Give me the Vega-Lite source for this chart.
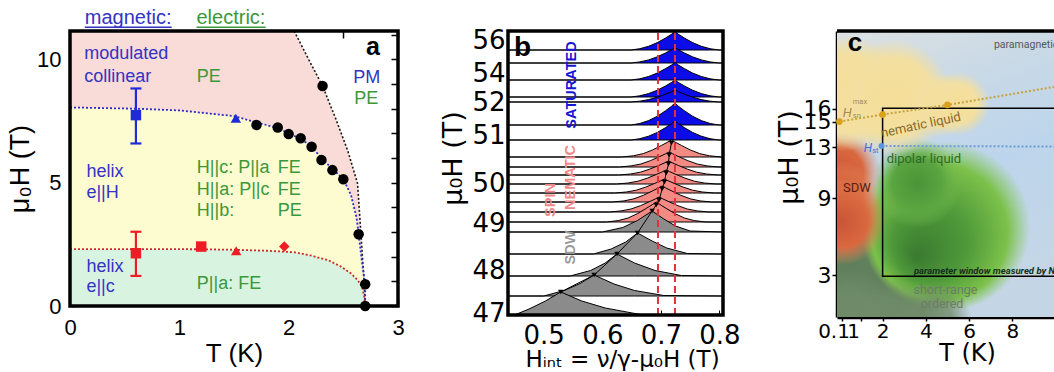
{
  "$schema": "https://vega.github.io/schema/vega-lite/v6.json",
  "background": "white",
  "padding": {"left": 6, "top": 8, "right": 0, "bottom": 0},
  "spacing": 34,
  "config": {
    "view": {"stroke": null},
    "axis": {"grid": false, "domain": false, "zindex": 1, "labelFont": "Liberation Sans", "titleFont": "Liberation Sans", "labelColor": "black", "titleColor": "black", "tickColor": "black", "titleFontWeight": "normal"},
    "text": {"font": "Liberation Sans"}
  },
  "resolve": {"scale": {"color": "independent", "fill": "independent", "shape": "independent"}},
  "datasets": {
    "a_lines": [
      {"c": "top", "T": 0, "H": 11.15},
      {"c": "k", "T": 2.05, "H": 11.15}, {"c": "k", "T": 2.2, "H": 9.85}, {"c": "k", "T": 2.31, "H": 8.92}, {"c": "k", "T": 2.43, "H": 7.6}, {"c": "k", "T": 2.54, "H": 6.3}, {"c": "k", "T": 2.63, "H": 4.97}, {"c": "k", "T": 2.66, "H": 3.0}, {"c": "k", "T": 2.69, "H": 1.0}, {"c": "k", "T": 2.7, "H": 0},
      {"c": "b", "T": 0, "H": 8.05}, {"c": "b", "T": 0.6, "H": 8.0}, {"c": "b", "T": 1.0, "H": 7.93}, {"c": "b", "T": 1.5, "H": 7.7}, {"c": "b", "T": 1.7, "H": 7.45}, {"c": "b", "T": 1.9, "H": 7.22}, {"c": "b", "T": 2.0, "H": 7.0}, {"c": "b", "T": 2.1, "H": 6.8}, {"c": "b", "T": 2.2, "H": 6.5}, {"c": "b", "T": 2.3, "H": 6.0}, {"c": "b", "T": 2.4, "H": 5.55}, {"c": "b", "T": 2.5, "H": 5.15}, {"c": "b", "T": 2.57, "H": 4.5}, {"c": "b", "T": 2.62, "H": 3.6}, {"c": "b", "T": 2.64, "H": 2.91}, {"c": "b", "T": 2.67, "H": 1.8}, {"c": "b", "T": 2.7, "H": 0.88}, {"c": "b", "T": 2.7, "H": 0},
      {"c": "r", "T": 0, "H": 2.31}, {"c": "r", "T": 0.6, "H": 2.31}, {"c": "r", "T": 1.2, "H": 2.3}, {"c": "r", "T": 1.5, "H": 2.28}, {"c": "r", "T": 1.8, "H": 2.24}, {"c": "r", "T": 2.05, "H": 2.18}, {"c": "r", "T": 2.2, "H": 2.05}, {"c": "r", "T": 2.36, "H": 1.86}, {"c": "r", "T": 2.47, "H": 1.62}, {"c": "r", "T": 2.57, "H": 1.32}, {"c": "r", "T": 2.63, "H": 1.05}, {"c": "r", "T": 2.67, "H": 0.8}, {"c": "r", "T": 2.69, "H": 0.4}, {"c": "r", "T": 2.7, "H": 0}
    ],
    "a_err": [
      {"T": 0.603, "lo": 6.59, "hi": 8.82, "g": "bl"},
      {"T": 0.603, "lo": 1.22, "hi": 3.01, "g": "rd"}
    ],
    "a_pts": [
      {"T": 2.31, "H": 8.92, "g": "k", "s": "circle"}, {"T": 1.706, "H": 7.34, "g": "k", "s": "circle"}, {"T": 1.9, "H": 7.24, "g": "k", "s": "circle"}, {"T": 2.0, "H": 6.97, "g": "k", "s": "circle"}, {"T": 2.11, "H": 6.8, "g": "k", "s": "circle"}, {"T": 2.21, "H": 6.46, "g": "k", "s": "circle"}, {"T": 2.3, "H": 5.92, "g": "k", "s": "circle"}, {"T": 2.4, "H": 5.51, "g": "k", "s": "circle"}, {"T": 2.5, "H": 5.14, "g": "k", "s": "circle"}, {"T": 2.64, "H": 2.91, "g": "k", "s": "circle"}, {"T": 2.7, "H": 0.88, "g": "k", "s": "circle"}, {"T": 2.7, "H": 0, "g": "k", "s": "circle"},
      {"T": 0.603, "H": 7.74, "g": "bl", "s": "square"},
      {"T": 1.517, "H": 7.61, "g": "bl", "s": "triangle"},
      {"T": 0.603, "H": 2.14, "g": "rd", "s": "square"},
      {"T": 1.2, "H": 2.41, "g": "rd", "s": "square"},
      {"T": 1.52, "H": 2.24, "g": "rd", "s": "triangle"},
      {"T": 1.96, "H": 2.41, "g": "rd", "s": "diamond"}
    ],
    "a_text": [
      {"T": 0.13, "H": 10.2, "txt": "modulated", "g": "m"},
      {"T": 0.13, "H": 9.3, "txt": "collinear", "g": "m"},
      {"T": 0.15, "H": 5.44, "txt": "helix", "g": "m"},
      {"T": 0.15, "H": 4.6, "txt": "e||H", "g": "m"},
      {"T": 0.15, "H": 1.6, "txt": "helix", "g": "m"},
      {"T": 0.15, "H": 0.76, "txt": "e||c", "g": "m"},
      {"T": 2.59, "H": 9.25, "txt": "PM", "g": "m"},
      {"T": 1.16, "H": 9.3, "txt": "PE", "g": "e"},
      {"T": 2.6, "H": 8.4, "txt": "PE", "g": "e"},
      {"T": 1.16, "H": 5.6, "txt": "H||c: P||a", "g": "e"},
      {"T": 1.9, "H": 5.6, "txt": "FE", "g": "e"},
      {"T": 1.16, "H": 4.7, "txt": "H||a: P||c", "g": "e"},
      {"T": 1.9, "H": 4.7, "txt": "FE", "g": "e"},
      {"T": 1.16, "H": 3.85, "txt": "H||b:", "g": "e"},
      {"T": 1.9, "H": 3.85, "txt": "PE", "g": "e"},
      {"T": 1.16, "H": 0.88, "txt": "P||a: FE", "g": "e"}
    ],
    "a_head": [
      {"T": 0.135, "T2": 0.93, "H": 11.67, "HU": 11.3, "txt": "magnetic:", "g": "m"},
      {"T": 1.157, "T2": 1.79, "H": 11.67, "HU": 11.3, "txt": "electric:", "g": "e"}
    ],
    "b_traces": [
      {"t": "t01", "p": "sat", "h": [0.439, 0.649, 0.664, 0.679, 0.694, 0.708, 0.718, 0.724, 0.73, 0.74, 0.754, 0.769, 0.784, 0.799, 0.806], "y": [26.5, 26.5, 26.63, 26.87, 27.24, 27.7, 28.07, 28.35, 28.07, 27.7, 27.24, 26.87, 26.63, 26.5, 26.5]},
      {"t": "t02", "p": "sat", "h": [0.439, 0.649, 0.664, 0.679, 0.694, 0.708, 0.718, 0.724, 0.73, 0.74, 0.754, 0.769, 0.784, 0.799, 0.806], "y": [25.2, 25.2, 25.31, 25.51, 25.82, 26.21, 26.52, 26.75, 26.52, 26.21, 25.82, 25.51, 25.31, 25.2, 25.2]},
      {"t": "t03", "p": "sat", "h": [0.439, 0.649, 0.664, 0.679, 0.694, 0.708, 0.718, 0.724, 0.73, 0.74, 0.754, 0.769, 0.784, 0.799, 0.806], "y": [23.5, 23.5, 23.62, 23.85, 24.2, 24.64, 24.99, 25.25, 24.99, 24.64, 24.2, 23.85, 23.62, 23.5, 23.5]},
      {"t": "t04", "p": "sat", "h": [0.439, 0.649, 0.664, 0.679, 0.694, 0.708, 0.718, 0.724, 0.73, 0.74, 0.754, 0.769, 0.784, 0.799, 0.806], "y": [21.8, 21.8, 21.92, 22.14, 22.48, 22.91, 23.25, 23.5, 23.25, 22.91, 22.48, 22.14, 21.92, 21.8, 21.8]},
      {"t": "t05", "p": "sat", "h": [0.439, 0.649, 0.664, 0.679, 0.694, 0.708, 0.718, 0.724, 0.73, 0.74, 0.754, 0.769, 0.784, 0.799, 0.806], "y": [21.3, 21.3, 21.38, 21.54, 21.78, 22.08, 22.32, 22.5, 22.32, 22.08, 21.78, 21.54, 21.38, 21.3, 21.3]},
      {"t": "t06", "p": "sat", "h": [0.439, 0.649, 0.664, 0.679, 0.694, 0.708, 0.718, 0.724, 0.73, 0.74, 0.754, 0.769, 0.784, 0.799, 0.806], "y": [19, 19, 19.15, 19.44, 19.88, 20.43, 20.87, 21.2, 20.87, 20.43, 19.88, 19.44, 19.15, 19, 19]},
      {"t": "t07", "p": "sat", "h": [0.439, 0.649, 0.664, 0.679, 0.694, 0.708, 0.718, 0.724, 0.73, 0.74, 0.754, 0.769, 0.784, 0.799, 0.806], "y": [17.5, 17.5, 17.63, 17.88, 18.26, 18.74, 19.12, 19.4, 19.12, 18.74, 18.26, 17.88, 17.63, 17.5, 17.5]},
      {"t": "t08", "p": "nem", "h": [0.439, 0.633, 0.653, 0.67, 0.686, 0.701, 0.712, 0.718, 0.724, 0.735, 0.75, 0.766, 0.783, 0.803, 0.806], "y": [15.8, 15.8, 15.92, 16.14, 16.51, 16.96, 17.3, 17.5, 17.3, 16.96, 16.51, 16.14, 15.92, 15.8, 15.8]},
      {"t": "t09", "p": "nem", "h": [0.439, 0.629, 0.649, 0.666, 0.682, 0.697, 0.708, 0.714, 0.72, 0.731, 0.746, 0.762, 0.779, 0.799, 0.806], "y": [14.8, 14.8, 14.91, 15.1, 15.43, 15.82, 16.12, 16.3, 16.12, 15.82, 15.43, 15.1, 14.91, 14.8, 14.8]},
      {"t": "t10", "p": "nem", "h": [0.439, 0.628, 0.648, 0.665, 0.681, 0.696, 0.707, 0.713, 0.719, 0.73, 0.745, 0.761, 0.778, 0.798, 0.806], "y": [14, 14, 14.1, 14.28, 14.59, 14.95, 15.23, 15.4, 15.23, 14.95, 14.59, 14.28, 14.1, 14, 14]},
      {"t": "t11", "p": "nem", "h": [0.439, 0.624, 0.644, 0.661, 0.677, 0.692, 0.703, 0.709, 0.715, 0.726, 0.741, 0.757, 0.774, 0.794, 0.806], "y": [13.1, 13.1, 13.2, 13.38, 13.69, 14.05, 14.33, 14.5, 14.33, 14.05, 13.69, 13.38, 13.2, 13.1, 13.1]},
      {"t": "t12", "p": "nem", "h": [0.439, 0.621, 0.641, 0.658, 0.674, 0.689, 0.7, 0.706, 0.712, 0.723, 0.738, 0.754, 0.771, 0.791, 0.806], "y": [12.2, 12.2, 12.3, 12.48, 12.79, 13.15, 13.43, 13.6, 13.43, 13.15, 12.79, 12.48, 12.3, 12.2, 12.2]},
      {"t": "t13", "p": "nem", "h": [0.439, 0.617, 0.637, 0.654, 0.67, 0.685, 0.696, 0.702, 0.708, 0.719, 0.734, 0.75, 0.767, 0.787, 0.806], "y": [11.3, 11.3, 11.41, 11.62, 11.97, 12.39, 12.71, 12.9, 12.71, 12.39, 11.97, 11.62, 11.41, 11.3, 11.3]},
      {"t": "t14", "p": "nem", "h": [0.439, 0.612, 0.632, 0.649, 0.665, 0.68, 0.691, 0.697, 0.703, 0.714, 0.729, 0.745, 0.762, 0.782, 0.806], "y": [10.3, 10.3, 10.41, 10.6, 10.93, 11.32, 11.62, 11.8, 11.62, 11.32, 10.93, 10.6, 10.41, 10.3, 10.3]},
      {"t": "t15", "p": "nem", "h": [0.439, 0.607, 0.627, 0.644, 0.66, 0.675, 0.686, 0.692, 0.698, 0.709, 0.724, 0.74, 0.757, 0.777, 0.806], "y": [9.3, 9.3, 9.44, 9.7, 10.14, 10.66, 11.06, 11.3, 11.06, 10.66, 10.14, 9.7, 9.44, 9.3, 9.3]},
      {"t": "t16", "p": "sdw", "h": [0.439, 0.6, 0.635, 0.66, 0.685, 0.705, 0.725, 0.75, 0.806], "y": [8.3, 8.3, 8.75, 9.45, 10.4, 9.6, 8.9, 8.4, 8.3]},
      {"t": "t17", "p": "sdw", "h": [0.439, 0.585, 0.615, 0.64, 0.66, 0.685, 0.71, 0.745, 0.806], "y": [6.1, 6.1, 6.6, 7.3, 8.2, 7.4, 6.7, 6.15, 6.1]},
      {"t": "t18", "p": "sdw", "h": [0.439, 0.545, 0.58, 0.605, 0.625, 0.655, 0.69, 0.735, 0.806], "y": [3.9, 3.9, 4.45, 5.2, 6.1, 5.2, 4.45, 3.95, 3.9]},
      {"t": "t19", "p": "sdw", "h": [0.439, 0.5, 0.535, 0.562, 0.586, 0.62, 0.655, 0.705, 0.806], "y": [1.9, 1.9, 2.45, 3.15, 4.0, 3.1, 2.45, 1.95, 1.9]},
      {"t": "t20", "p": "sdw", "h": [0.439, 0.45, 0.475, 0.503, 0.529, 0.565, 0.605, 0.665, 0.806], "y": [0, 0, 0.6, 1.4, 2.3, 1.4, 0.7, 0.05, 0]}
    ],
    "b_tri": [
      {"h": 0.718, "y": 17.2}, {"h": 0.714, "y": 16.0}, {"h": 0.713, "y": 15.1}, {"h": 0.709, "y": 14.2}, {"h": 0.706, "y": 13.3}, {"h": 0.702, "y": 12.6}, {"h": 0.697, "y": 11.5}, {"h": 0.692, "y": 11.0}, {"h": 0.685, "y": 10.4}, {"h": 0.66, "y": 8.2}, {"h": 0.625, "y": 6.1}, {"h": 0.586, "y": 4.0}, {"h": 0.529, "y": 2.3}
    ]
  },
  "hconcat": [
    {
      "width": 328,
      "height": 275,
      "encoding": {
        "x": {"field": "T", "type": "quantitative", "scale": {"domain": [0, 3], "nice": false, "zero": false}, "axis": null},
        "y": {"field": "H", "type": "quantitative", "scale": {"domain": [0, 11.15], "nice": false, "zero": false}, "axis": null}
      },
      "resolve": {"axis": {"x": "independent", "y": "independent"}},
      "layer": [
        {
          "data": {"name": "a_lines"},
          "transform": [{"filter": "datum.c === 'top' || datum.c === 'k'"}],
          "mark": {"type": "area", "color": "#f9dbd7"},
          "encoding": {
            "x": {"field": "T", "type": "quantitative", "scale": {"domain": [0, 3], "nice": false, "zero": false},
              "axis": {"title": "T (K)", "values": [0, 0.5, 1, 1.5, 2, 2.5, 3], "labelExpr": "datum.value % 1 === 0 ? format(datum.value, 'd') : ''", "tickSize": -7, "tickWidth": 1.5, "labelFlush": false, "labelOverlap": false, "labelFontSize": 22, "labelPadding": 18, "titleFontSize": 26, "titlePadding": 2}},
            "y": {"field": "H", "type": "quantitative", "scale": {"domain": [0, 11.15], "nice": false, "zero": false},
              "axis": {"title": "μ₀H (T)", "values": [0, 1, 2, 3, 4, 5, 6, 7, 8, 9, 10, 11], "labelExpr": "datum.value % 5 === 0 ? format(datum.value, 'd') : ''", "tickSize": -7, "tickWidth": 1.5, "labelFlush": false, "labelOverlap": false, "labelFontSize": 22, "labelPadding": 16, "titleFontSize": 27, "titlePadding": 2}},
            "y2": {"datum": 0}
          }
        },
        {
          "data": {"name": "a_lines"},
          "transform": [{"filter": "datum.c === 'b'"}],
          "mark": {"type": "area", "color": "#fdfbd0"},
          "encoding": {"y2": {"datum": 0}}
        },
        {
          "data": {"name": "a_lines"},
          "transform": [{"filter": "datum.c === 'r'"}],
          "mark": {"type": "area", "color": "#d8f4e0"},
          "encoding": {"y2": {"datum": 0}}
        },
        {
          "data": {"name": "a_lines"},
          "transform": [{"filter": "datum.c === 'k'"}],
          "mark": {"type": "line", "color": "#1a1a1a", "strokeWidth": 1.6, "strokeDash": [2, 2]}
        },
        {
          "data": {"name": "a_lines"},
          "transform": [{"filter": "datum.c === 'b'"}],
          "mark": {"type": "line", "color": "#2b2bd0", "strokeWidth": 1.8, "strokeDash": [2, 2]}
        },
        {
          "data": {"name": "a_lines"},
          "transform": [{"filter": "datum.c === 'r'"}],
          "mark": {"type": "line", "color": "#cc2a2a", "strokeWidth": 1.8, "strokeDash": [2, 2]}
        },
        {
          "data": {"name": "a_err"},
          "mark": {"type": "rule", "strokeWidth": 2.2},
          "encoding": {
            "y": {"field": "lo", "type": "quantitative", "scale": {"domain": [0, 11.15], "nice": false, "zero": false}, "axis": null},
            "y2": {"field": "hi"},
            "color": {"field": "g", "type": "nominal", "scale": {"domain": ["m", "e", "bl", "rd", "k"], "range": ["#3333c4", "#3a983a", "#1f2bd6", "#ee1c24", "#000000"]}, "legend": null}
          }
        },
        {
          "data": {"name": "a_err"},
          "mark": {"type": "tick", "orient": "horizontal", "size": 11, "thickness": 2.2, "opacity": 1},
          "encoding": {
            "y": {"field": "lo", "type": "quantitative", "scale": {"domain": [0, 11.15], "nice": false, "zero": false}, "axis": null},
            "color": {"field": "g", "type": "nominal", "scale": {"domain": ["m", "e", "bl", "rd", "k"], "range": ["#3333c4", "#3a983a", "#1f2bd6", "#ee1c24", "#000000"]}, "legend": null}
          }
        },
        {
          "data": {"name": "a_err"},
          "mark": {"type": "tick", "orient": "horizontal", "size": 11, "thickness": 2.2, "opacity": 1},
          "encoding": {
            "y": {"field": "hi", "type": "quantitative", "scale": {"domain": [0, 11.15], "nice": false, "zero": false}, "axis": null},
            "color": {"field": "g", "type": "nominal", "scale": {"domain": ["m", "e", "bl", "rd", "k"], "range": ["#3333c4", "#3a983a", "#1f2bd6", "#ee1c24", "#000000"]}, "legend": null}
          }
        },
        {
          "data": {"name": "a_pts"},
          "mark": {"type": "point", "filled": true, "opacity": 1, "size": 110},
          "encoding": {
            "shape": {"field": "s", "type": "nominal", "scale": {"domain": ["circle", "square", "triangle", "diamond"], "range": ["circle", "square", "triangle-up", "diamond"]}, "legend": null},
            "color": {"field": "g", "type": "nominal", "scale": {"domain": ["m", "e", "bl", "rd", "k"], "range": ["#3333c4", "#3a983a", "#1f2bd6", "#ee1c24", "#000000"]}, "legend": null}
          }
        },
        {
          "data": {"name": "a_text"},
          "mark": {"type": "text", "align": "left", "baseline": "middle", "fontSize": 18},
          "encoding": {
            "text": {"field": "txt"},
            "color": {"field": "g", "type": "nominal", "scale": {"domain": ["m", "e", "bl", "rd", "k"], "range": ["#3333c4", "#3a983a", "#1f2bd6", "#ee1c24", "#000000"]}, "legend": null}
          }
        },
        {
          "data": {"name": "a_head"},
          "mark": {"type": "text", "align": "left", "baseline": "middle", "fontSize": 20},
          "encoding": {
            "text": {"field": "txt"},
            "color": {"field": "g", "type": "nominal", "scale": {"domain": ["m", "e", "bl", "rd", "k"], "range": ["#3333c4", "#3a983a", "#1f2bd6", "#ee1c24", "#000000"]}, "legend": null}
          }
        },
        {
          "data": {"name": "a_head"},
          "mark": {"type": "rule", "strokeWidth": 1.5},
          "encoding": {
            "x2": {"field": "T2"},
            "y": {"field": "HU", "type": "quantitative", "scale": {"domain": [0, 11.15], "nice": false, "zero": false}, "axis": null},
            "color": {"field": "g", "type": "nominal", "scale": {"domain": ["m", "e", "bl", "rd", "k"], "range": ["#3333c4", "#3a983a", "#1f2bd6", "#ee1c24", "#000000"]}, "legend": null}
          }
        },
        {
          "data": {"values": [{"T": 2.77, "H": 10.51, "txt": "a"}]},
          "mark": {"type": "text", "fontSize": 25, "fontWeight": "bold", "color": "black"},
          "encoding": {"text": {"field": "txt"}}
        },
        {
          "data": {"values": [{"T": 0, "T2": 3, "H": 0, "H2": 11.15}]},
          "mark": {"type": "rect", "filled": false, "color": "black", "strokeWidth": 3.5},
          "encoding": {
            "x": {"field": "T", "type": "quantitative", "scale": {"domain": [0, 3], "nice": false, "zero": false},
              "axis": {"orient": "top", "title": null, "labels": false, "values": [0, 0.5, 1, 1.5, 2, 2.5, 3], "tickSize": -7, "tickWidth": 1.5}},
            "x2": {"field": "T2"},
            "y": {"field": "H", "type": "quantitative", "scale": {"domain": [0, 11.15], "nice": false, "zero": false},
              "axis": {"orient": "right", "title": null, "labels": false, "values": [0, 1, 2, 3, 4, 5, 6, 7, 8, 9, 10, 11], "tickSize": -7, "tickWidth": 1.5}},
            "y2": {"field": "H2"}
          }
        }
      ]
    },
    {
      "width": 215,
      "height": 284,
      "encoding": {
        "x": {"field": "h", "type": "quantitative", "scale": {"domain": [0.439, 0.806], "nice": false, "zero": false},
          "axis": {"title": "Hᵢₙₜ = ν/γ-μ₀H (T)", "values": [0.5, 0.6, 0.7, 0.8], "format": ".1f", "labelFlush": false, "labelOverlap": false, "tickSize": -5, "tickWidth": 1, "labelPadding": 12, "labelFont": "DejaVu Sans", "labelFontSize": 26, "titleFont": "DejaVu Sans", "titleFontSize": 23, "titlePadding": 0, "titleX": 114}},
        "y": {"field": "y", "type": "quantitative", "stack": null, "scale": {"domain": [0, 28.4], "nice": false, "zero": false},
          "axis": {"title": "μ₀H (T)", "values": [0.2, 4.5, 9.2, 13.2, 18, 21.3, 24.2, 27.5], "labelExpr": "datum.value < 1 ? '47' : datum.value < 5 ? '48' : datum.value < 10 ? '49' : datum.value < 15 ? '50' : datum.value < 19 ? '51' : datum.value < 22 ? '52' : datum.value < 25 ? '54' : '56'", "ticks": false, "labelPadding": 3, "labelFlush": false, "labelOverlap": false, "labelFont": "DejaVu Sans", "labelFontSize": 26, "titleFont": "DejaVu Sans", "titleFontSize": 27, "titlePadding": 4, "titleY": 127}}
      },
      "layer": [
        {
          "data": {"name": "b_traces"},
          "transform": [
            {"flatten": ["h", "y"]},
            {"joinaggregate": [{"op": "min", "field": "y", "as": "b"}], "groupby": ["t"]}
          ],
          "mark": {"type": "area", "stroke": "black", "strokeWidth": 1, "strokeJoin": "round", "opacity": 1},
          "encoding": {
            "y2": {"field": "b"},
            "fill": {"field": "p", "type": "nominal", "scale": {"domain": ["sat", "nem", "sdw"], "range": ["#0c0ce8", "#f38a84", "#8b8b8b"]}, "legend": null},
            "detail": {"field": "t", "type": "nominal"}
          }
        },
        {
          "data": {"values": [{"h": 0.695, "y": 0, "y2": 28.4}, {"h": 0.724, "y": 0, "y2": 28.4}]},
          "mark": {"type": "rule", "color": "#e3323a", "strokeWidth": 2, "strokeDash": [7, 4]},
          "encoding": {"y2": {"field": "y2"}}
        },
        {
          "data": {"name": "b_tri"},
          "mark": {"type": "line", "color": "black", "strokeWidth": 1}
        },
        {
          "data": {"name": "b_tri"},
          "mark": {"type": "point", "shape": "triangle-down", "filled": true, "color": "black", "size": 30, "opacity": 1}
        },
        {
          "data": {"values": [{"h": 0.464, "y": 26.7, "txt": "b"}]},
          "mark": {"type": "text", "fontSize": 28, "fontWeight": "bold", "color": "black"},
          "encoding": {"text": {"field": "txt"}}
        },
        {
          "data": {"values": [
            {"h": 0.549, "y": 23.0, "txt": "SATURATED", "p": "sat"},
            {"h": 0.512, "y": 11.5, "txt": "SPIN", "p": "nem"},
            {"h": 0.546, "y": 13.75, "txt": "NEMATIC", "p": "nem"},
            {"h": 0.546, "y": 6.75, "txt": "SDW", "p": "sdw"}
          ]},
          "mark": {"type": "text", "angle": 270, "fontSize": 14.5, "fontWeight": "bold", "baseline": "middle", "align": "center"},
          "encoding": {
            "text": {"field": "txt"},
            "color": {"field": "p", "type": "nominal", "scale": {"domain": ["sat", "nem", "sdw"], "range": ["#1515d6", "#f08a8a", "#9a9a9a"]}, "legend": null}
          }
        },
        {
          "data": {"values": [{"h": 0.439, "h2": 0.806, "y": 0, "y2": 28.4}]},
          "mark": {"type": "rect", "filled": false, "color": "black", "strokeWidth": 3.5},
          "encoding": {"x2": {"field": "h2"}, "y2": {"field": "y2"}}
        }
      ]
    },
    {
      "width": 228,
      "height": 286,
      "encoding": {
        "x": {"field": "x", "type": "quantitative", "scale": {"domain": [-0.11, 10.44], "nice": false, "zero": false},
          "axis": {"title": "T (K)", "values": [0.1, 1, 2, 4, 6, 8], "format": "~g", "labelOverlap": false, "labelFlush": false, "labelOffset": {"condition": {"test": "datum.value < 1.5", "value": -8}, "value": 0}, "domain": true, "domainWidth": 3.5, "domainColor": "black", "tickSize": 4, "tickWidth": 1.5, "labelPadding": 0, "labelFont": "DejaVu Sans", "labelFontSize": 20, "titleFont": "DejaVu Sans", "titleFontSize": 24, "titlePadding": 0, "titleX": 130}},
        "y": {"field": "y", "type": "quantitative", "scale": {"domain": [-0.25, 22.07], "nice": false, "zero": false},
          "axis": {"title": "μ₀H (T)", "values": [3, 9, 13, 15, 16], "format": "d", "labelOverlap": false, "labelFlush": false, "domain": true, "domainWidth": 3.5, "domainColor": "black", "tickSize": 5, "tickWidth": 1.5, "labelPadding": 1, "labelFont": "DejaVu Sans", "labelFontSize": 22, "titleFont": "DejaVu Sans", "titleFontSize": 27, "titlePadding": 0, "titleY": 126}}
      },
      "layer": [
        {
          "data": {"values": [{"x": -0.11, "x2": 10.44, "y": -0.25, "y2": 22.07}]},
          "mark": {"type": "rect", "fill": {"gradient": "linear", "x1": 0, "y1": 0, "x2": 0.3, "y2": 1, "stops": [{"offset": 0, "color": "#dde1e2"}, {"offset": 0.3, "color": "#c9d9e6"}, {"offset": 0.6, "color": "#bdd5ec"}, {"offset": 1, "color": "#c4d6e6"}]}},
          "encoding": {"x2": {"field": "x2"}, "y2": {"field": "y2"}}
        },
        {
          "data": {"values": [{"x": 0.3, "y": 1.5}, {"x": 2.2, "y": 0.5}, {"x": 0.2, "y": 4.5}]},
          "mark": {"type": "point", "shape": "circle", "filled": true, "opacity": 1, "strokeWidth": 0, "size": 14400, "clip": true,
            "fill": {"gradient": "radial", "x1": 0.5, "y1": 0.5, "r1": 0, "x2": 0.5, "y2": 0.5, "r2": 0.5, "stops": [{"offset": 0, "color": "#5f7e5b"}, {"offset": 0.6, "color": "#62815d"}, {"offset": 1, "color": "rgba(98,129,93,0)"}]}}
        },
        {
          "data": {"values": [{"x": 4.9, "y": 6.8}]},
          "mark": {"type": "point", "shape": "circle", "filled": true, "opacity": 1, "strokeWidth": 0, "size": 28900, "clip": true,
            "fill": {"gradient": "radial", "x1": 0.33, "y1": 0.68, "r1": 0, "x2": 0.5, "y2": 0.5, "r2": 0.5, "stops": [{"offset": 0, "color": "#3a7a30"}, {"offset": 0.45, "color": "#4f9a3a"}, {"offset": 0.8, "color": "#7cc14a"}, {"offset": 1, "color": "rgba(130,200,80,0)"}]}}
        },
        {
          "data": {"values": [{"x": 3.6, "y": 10.2}]},
          "mark": {"type": "point", "shape": "circle", "filled": true, "opacity": 1, "strokeWidth": 0, "size": 8100, "clip": true,
            "fill": {"gradient": "radial", "x1": 0.5, "y1": 0.5, "r1": 0, "x2": 0.5, "y2": 0.5, "r2": 0.5, "stops": [{"offset": 0, "color": "#4a9438"}, {"offset": 0.55, "color": "#5aa540"}, {"offset": 1, "color": "rgba(120,190,80,0)"}]}}
        },
        {
          "data": {"values": [{"x": 0.5, "y": 0.3}, {"x": 2.4, "y": -0.4}, {"x": 4.3, "y": -0.6}]},
          "mark": {"type": "point", "shape": "circle", "filled": true, "opacity": 1, "strokeWidth": 0, "size": 6400, "clip": true,
            "fill": {"gradient": "radial", "x1": 0.5, "y1": 0.5, "r1": 0, "x2": 0.5, "y2": 0.5, "r2": 0.5, "stops": [{"offset": 0, "color": "rgba(112,140,106,0.9)"}, {"offset": 0.5, "color": "rgba(112,140,106,0.8)"}, {"offset": 1, "color": "rgba(112,140,106,0)"}]}}
        },
        {
          "data": {"values": [{"x": -0.1, "y": 11.0}, {"x": -0.1, "y": 8.6}, {"x": 0.1, "y": 7.2}]},
          "mark": {"type": "point", "shape": "circle", "filled": true, "opacity": 1, "strokeWidth": 0, "size": 7600, "clip": true,
            "fill": {"gradient": "radial", "x1": 0.5, "y1": 0.5, "r1": 0, "x2": 0.5, "y2": 0.5, "r2": 0.5, "stops": [{"offset": 0, "color": "#cb5537"}, {"offset": 0.6, "color": "#d9683f"}, {"offset": 1, "color": "rgba(232,137,92,0)"}]}}
        },
        {
          "data": {"values": [{"x": 0.3, "y": 17.2}, {"x": 2.5, "y": 16.9}]},
          "mark": {"type": "point", "shape": "circle", "filled": true, "opacity": 1, "strokeWidth": 0, "size": 13456, "clip": true,
            "fill": {"gradient": "radial", "x1": 0.5, "y1": 0.5, "r1": 0, "x2": 0.5, "y2": 0.5, "r2": 0.5, "stops": [{"offset": 0, "color": "#f5de98"}, {"offset": 0.68, "color": "#f3dfa0"}, {"offset": 1, "color": "rgba(243,223,160,0)"}]}}
        },
        {
          "data": {"values": [{"x": 4.6, "y": 16.3}, {"x": 5.5, "y": 16.4}]},
          "mark": {"type": "point", "shape": "circle", "filled": true, "opacity": 1, "strokeWidth": 0, "size": 4096, "clip": true,
            "fill": {"gradient": "radial", "x1": 0.5, "y1": 0.5, "r1": 0, "x2": 0.5, "y2": 0.5, "r2": 0.5, "stops": [{"offset": 0, "color": "#f5de98"}, {"offset": 0.6, "color": "#f3dfa0"}, {"offset": 1, "color": "rgba(243,223,160,0)"}]}}
        },
        {
          "data": {"values": [{"x": 2, "x2": 12, "y": 2.93, "y2": 16.05}]},
          "mark": {"type": "rect", "filled": false, "color": "black", "strokeWidth": 1.5, "clip": true},
          "encoding": {"x2": {"field": "x2"}, "y2": {"field": "y2"}}
        },
        {
          "data": {"values": [{"x": 0, "y": 15}, {"x": 2, "y": 15.55}, {"x": 5, "y": 16.3}, {"x": 10.44, "y": 17.85}]},
          "mark": {"type": "line", "color": "#c7a33c", "strokeWidth": 2, "strokeDash": [2, 2], "clip": true}
        },
        {
          "data": {"values": [{"x": 0, "y": 15}, {"x": 2, "y": 15.55}, {"x": 5, "y": 16.3}]},
          "mark": {"type": "point", "shape": "circle", "filled": true, "color": "#d9a21e", "size": 45, "opacity": 1}
        },
        {
          "data": {"values": [{"x": 1.95, "y": 13.1}, {"x": 10.44, "y": 13.05}]},
          "mark": {"type": "line", "color": "#6d9bd8", "strokeWidth": 2, "strokeDash": [2, 2], "clip": true}
        },
        {
          "data": {"values": [{"x": 1.95, "y": 13.1}]},
          "mark": {"type": "point", "shape": "circle", "filled": true, "color": "#5b95dd", "size": 35, "opacity": 1}
        },
        {
          "data": {"values": [{"x": 0.72, "y": 21.13, "txt": "c"}]},
          "mark": {"type": "text", "fontSize": 26, "fontWeight": "bold", "color": "black"},
          "encoding": {"text": {"field": "txt"}}
        },
        {
          "data": {"values": [{"x": 7.15, "y": 20.98, "txt": "paramagnetic"}]},
          "mark": {"type": "text", "font": "Roboto", "fontSize": 10.5, "align": "left", "color": "#505860", "clip": true},
          "encoding": {"text": {"field": "txt"}}
        },
        {
          "data": {"values": [{"x": 0.37, "y": 15.66, "txt": "H"}]},
          "mark": {"type": "text", "font": "Roboto", "fontSize": 13, "fontStyle": "italic", "color": "#a58d50"},
          "encoding": {"text": {"field": "txt"}}
        },
        {
          "data": {"values": [{"x": 0.62, "y": 16.5, "txt": "max"}, {"x": 0.62, "y": 15.45, "txt": "sn"}]},
          "mark": {"type": "text", "font": "Roboto", "fontSize": 7.5, "align": "left", "color": "#a58d50"},
          "encoding": {"text": {"field": "txt"}}
        },
        {
          "data": {"values": [{"x": 1.32, "y": 12.97, "txt": "H"}]},
          "mark": {"type": "text", "font": "Roboto", "fontSize": 12, "fontStyle": "italic", "color": "#3f6fd6"},
          "encoding": {"text": {"field": "txt"}}
        },
        {
          "data": {"values": [{"x": 1.52, "y": 12.7, "txt": "st"}]},
          "mark": {"type": "text", "font": "Roboto", "fontSize": 7.5, "align": "left", "color": "#3f6fd6"},
          "encoding": {"text": {"field": "txt"}}
        },
        {
          "data": {"values": [{"x": 3.77, "y": 14.73, "txt": "nematic liquid"}]},
          "mark": {"type": "text", "font": "Roboto", "fontSize": 13, "angle": 348, "color": "#86692a"},
          "encoding": {"text": {"field": "txt"}}
        },
        {
          "data": {"values": [{"x": 3.91, "y": 12.07, "txt": "dipolar liquid"}]},
          "mark": {"type": "text", "font": "Roboto", "fontSize": 13, "color": "#2e6a29"},
          "encoding": {"text": {"field": "txt"}}
        },
        {
          "data": {"values": [{"x": 0.81, "y": 9.8, "txt": "SDW"}]},
          "mark": {"type": "text", "font": "Roboto", "fontSize": 13, "color": "#5a1d10"},
          "encoding": {"text": {"field": "txt"}}
        },
        {
          "data": {"values": [{"x": 4.91, "y": 1.84, "txt": "short-range"}, {"x": 4.75, "y": 0.74, "txt": "ordered"}]},
          "mark": {"type": "text", "font": "Roboto", "fontSize": 12.5, "color": "#6e7a6a"},
          "encoding": {"text": {"field": "txt"}}
        },
        {
          "data": {"values": [{"x": 3.45, "y": 3.34, "txt": "parameter window measured by NMR"}]},
          "mark": {"type": "text", "font": "Roboto", "fontSize": 9.5, "fontStyle": "italic", "fontWeight": "bold", "align": "left", "color": "#16301a", "clip": true},
          "encoding": {"text": {"field": "txt"}}
        },
        {
          "data": {"values": [{"x": -0.11, "x2": 10.44, "y": 22.07}]},
          "mark": {"type": "rule", "color": "black", "strokeWidth": 3.5},
          "encoding": {"x2": {"field": "x2"}}
        }
      ]
    }
  ]
}
